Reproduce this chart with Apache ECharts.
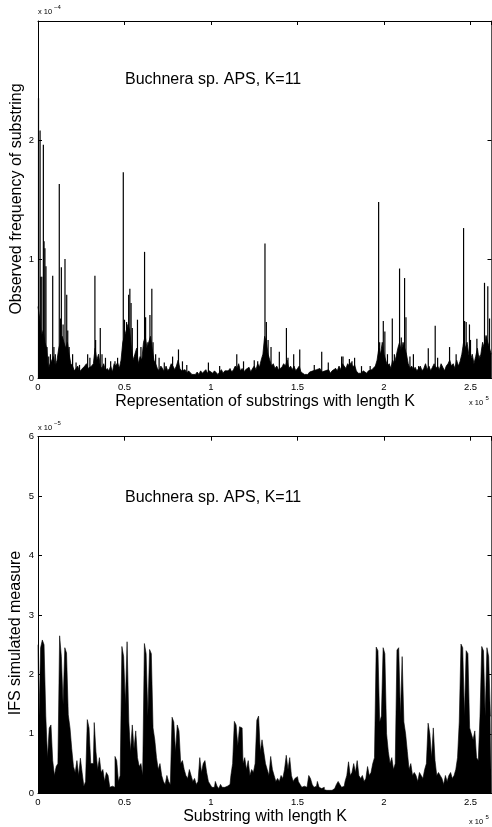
<!DOCTYPE html>
<html>
<head>
<meta charset="utf-8">
<script src="https://cdn.jsdelivr.net/npm/echarts@6/dist/echarts.min.js"></script>
<style>
  html, body { margin: 0; padding: 0; background: #fff; }
  #main { width: 492px; height: 827px; }
</style>
</head>
<body>
<div id="main"></div>
<script>
// x positions are in units of 1e5 (substring index), sampled every 0.01
var STEP = 0.01;
var X_MAX = 2.62144;
var xTickLabels = ['0', '0.5', '1', '1.5', '2', '2.5'];

// observed frequency, units of 1e-4 : the dense floor of the top panel
var topFloor = [
    0.6, 0.5, 0.35, 0.4, 0.3, 0.25, 0.08, 0.12, 0.15, 0.18,
    0.1, 0.15, 0.25, 0.3, 0.35, 0.3, 0.25, 0.3, 0.2, 0.12,
    0.1, 0.06, 0.08, 0.1, 0.05, 0.07, 0.06, 0.1, 0.12, 0.08,
    0.07, 0.1, 0.12, 0.25, 0.15, 0.2, 0.1, 0.08, 0.12, 0.06,
    0.08, 0.06, 0.1, 0.05, 0.12, 0.1, 0.13, 0.08, 0.15, 0.3,
    0.35, 0.4, 0.45, 0.4, 0.25, 0.15, 0.2, 0.25, 0.12, 0.18,
    0.15, 0.3, 0.35, 0.25, 0.3, 0.35, 0.25, 0.15, 0.12, 0.08,
    0.06, 0.1, 0.08, 0.05, 0.1, 0.06, 0.08, 0.12, 0.1, 0.07,
    0.1, 0.15, 0.08, 0.06, 0.05, 0.07, 0.04, 0.06, 0.05, 0.03,
    0.04, 0.03, 0.05, 0.03, 0.06, 0.04, 0.05, 0.07, 0.04, 0.06,
    0.05, 0.04, 0.06, 0.05, 0.03, 0.05, 0.07, 0.04, 0.06, 0.05,
    0.06, 0.08, 0.05, 0.07, 0.1, 0.08, 0.12, 0.06, 0.08, 0.05,
    0.07, 0.06, 0.09, 0.05, 0.08, 0.1, 0.07, 0.12, 0.09, 0.15,
    0.2, 0.35, 0.3, 0.2, 0.15, 0.1, 0.12, 0.08, 0.1, 0.07,
    0.06, 0.09, 0.12, 0.1, 0.15, 0.08, 0.1, 0.07, 0.1, 0.06,
    0.08, 0.1, 0.05, 0.04, 0.03, 0.04, 0.03, 0.05, 0.04, 0.06,
    0.05, 0.07, 0.06, 0.08, 0.05, 0.04, 0.06, 0.05, 0.07, 0.04,
    0.06, 0.05, 0.08, 0.06, 0.1, 0.07, 0.12, 0.1, 0.08, 0.12,
    0.1, 0.13, 0.09, 0.11, 0.06, 0.04, 0.05, 0.04, 0.06, 0.05,
    0.04, 0.06, 0.05, 0.07, 0.06, 0.1, 0.15, 0.25, 0.2, 0.3,
    0.2, 0.15, 0.1, 0.12, 0.08, 0.15, 0.12, 0.18, 0.25, 0.3,
    0.22, 0.3, 0.25, 0.2, 0.12, 0.08, 0.1, 0.07, 0.09, 0.06,
    0.08, 0.1, 0.06, 0.08, 0.12, 0.07, 0.1, 0.06, 0.09, 0.12,
    0.08, 0.1, 0.07, 0.12, 0.09, 0.06, 0.1, 0.12, 0.15, 0.1,
    0.12, 0.08, 0.15, 0.1, 0.14, 0.2, 0.3, 0.25, 0.3, 0.2,
    0.15, 0.2, 0.12, 0.18, 0.25, 0.15, 0.2, 0.3, 0.25, 0.35,
    0.3, 0.25, 0.2
];

// thin spikes of the top panel (x in 1e5, value in 1e-4)
var topPeakX = [
    0.003, 0.012, 0.016, 0.022, 0.031, 0.035, 0.040, 0.046, 0.052, 0.062,
    0.072, 0.085, 0.092, 0.100, 0.123, 0.130, 0.135, 0.145, 0.156, 0.166,
    0.172, 0.180, 0.200, 0.220, 0.240, 0.287, 0.300, 0.329, 0.333, 0.360,
    0.370, 0.390, 0.420, 0.445, 0.460, 0.493, 0.500, 0.512, 0.524, 0.531,
    0.538, 0.545, 0.575, 0.595, 0.616, 0.622, 0.635, 0.647, 0.658, 0.665,
    0.680, 0.700, 0.730, 0.778, 0.812, 0.835, 0.860, 0.985, 1.050, 1.149,
    1.188, 1.250, 1.270, 1.300, 1.312, 1.320, 1.330, 1.347, 1.395, 1.436,
    1.445, 1.478, 1.513, 1.597, 1.640, 1.678, 1.720, 1.755, 1.763, 1.800,
    1.815, 1.830, 1.870, 1.920, 1.969, 1.975, 1.996, 2.005, 2.020, 2.048,
    2.060, 2.090, 2.100, 2.119, 2.127, 2.150, 2.170, 2.200, 2.256, 2.296,
    2.310, 2.379, 2.417, 2.460, 2.466, 2.475, 2.494, 2.500, 2.537, 2.550,
    2.581, 2.590, 2.600, 2.610
];
var topPeakY = [
    2.35, 2.08, 0.85, 0.85, 1.96, 1.15, 1.09, 0.94, 0.26, 0.18,
    0.20, 0.86, 0.26, 0.20, 1.63, 0.50, 0.93, 0.45, 1.00, 0.70,
    0.40, 0.26, 0.20, 0.13, 0.11, 0.20, 0.17, 0.86, 0.32, 0.42,
    0.20, 0.17, 0.14, 0.14, 0.17, 1.73, 0.49, 0.47, 0.70, 0.75,
    0.63, 0.42, 0.49, 0.26, 1.06, 0.51, 0.30, 0.53, 0.75, 0.30,
    0.20, 0.17, 0.13, 0.18, 0.24, 0.14, 0.11, 0.13, 0.10, 0.20,
    0.14, 0.15, 0.14, 0.17, 1.13, 0.47, 0.32, 0.26, 0.22, 0.42,
    0.17, 0.20, 0.24, 0.11, 0.22, 0.13, 0.08, 0.18, 0.18, 0.16,
    0.14, 0.17, 0.10, 0.10, 1.48, 0.30, 0.48, 0.39, 0.20, 0.50,
    0.20, 0.92, 0.34, 0.84, 0.51, 0.18, 0.20, 0.10, 0.25, 0.44,
    0.17, 0.26, 0.20, 1.26, 0.48, 0.47, 0.45, 0.32, 0.33, 0.19,
    0.80, 0.36, 0.77, 0.50
];

// IFS simulated measure, units of 1e-5, sampled every 0.01
var bottomMeasure = [
    2.5, 1.2, 2.45, 2.58, 2.5, 1.3, 0.6, 1.1, 1.15, 0.55,
    0.3, 0.45, 0.5, 2.65, 2.3, 1.5, 2.45, 2.36, 1.32, 1.1,
    0.75, 0.45, 0.35, 0.55, 0.3, 0.59, 0.35, 0.12, 0.2, 1.24,
    1.1, 0.5, 0.5, 1.19, 0.7, 0.4, 0.6, 0.35, 0.4, 0.2,
    0.35, 0.3, 0.1, 0.12, 0.1, 0.62, 0.55, 0.2, 0.3, 2.47,
    2.3, 1.5, 2.55, 1.2, 0.7, 1.15, 0.75, 1.05, 0.6, 0.45,
    0.5, 0.3, 2.52, 2.35, 1.3, 2.42, 2.35, 1.1, 0.9, 0.6,
    0.4, 0.5, 0.3, 0.2, 0.15, 0.3, 0.2, 0.15, 1.28, 1.2,
    0.7, 1.15, 1.05, 0.5, 0.55, 0.4, 0.3, 0.25, 0.4, 0.3,
    0.2, 0.25, 0.15, 0.2, 0.6, 0.35, 0.5, 0.55, 0.35, 0.2,
    0.15, 0.1, 0.1, 0.2, 0.12, 0.08, 0.15, 0.1, 0.1, 0.12,
    0.1, 0.15, 0.3, 0.5, 1.21, 1.15, 0.8, 1.12, 1.1, 0.5,
    0.6, 0.4, 0.55, 0.3, 0.4, 0.35, 0.5, 1.23, 1.3, 0.7,
    0.9, 0.7, 0.5, 0.4, 0.3, 0.62, 0.4, 0.3, 0.2, 0.25,
    0.2, 0.3, 0.25, 0.4, 0.64, 0.4, 0.6, 0.3, 0.2, 0.25,
    0.28, 0.2, 0.15, 0.1, 0.12, 0.1, 0.08, 0.3, 0.25, 0.15,
    0.1, 0.12, 0.2, 0.1, 0.08, 0.1, 0.06, 0.05, 0.05, 0.04,
    0.05, 0.08, 0.1, 0.15, 0.2, 0.15, 0.1, 0.12, 0.2, 0.3,
    0.53, 0.3, 0.35, 0.5, 0.35, 0.55, 0.3, 0.25, 0.3, 0.2,
    0.25, 0.45, 0.3, 0.35, 0.5, 0.6, 2.46, 2.4, 1.2, 1.3,
    2.45, 2.35, 1.0, 0.7, 0.5, 0.6, 0.4, 0.5, 2.41, 2.45,
    1.3, 2.3, 1.2, 1.0, 0.7, 0.4, 0.5, 0.3, 0.35, 0.3,
    0.2, 0.35, 0.3, 0.25, 0.4, 0.5, 1.18, 1.0, 0.6, 1.1,
    0.55, 0.3, 0.35, 0.3, 0.25, 0.15, 0.3, 0.2, 0.3, 0.35,
    0.25, 0.3, 0.4, 0.6, 1.2, 2.51, 2.45, 1.3, 2.4, 2.35,
    1.1, 1.0, 0.9, 1.05, 0.6, 0.55, 1.3, 2.47, 2.4, 1.3,
    2.45, 2.3, 1.3
];

function pairs(values) {
    var out = [];
    for (var i = 0; i < values.length; i++) {
        out.push([+(i * STEP).toFixed(2), values[i]]);
    }
    return out;
}
function zip(xs, ys) {
    var out = [];
    for (var i = 0; i < xs.length; i++) out.push([xs[i], ys[i]]);
    return out;
}

var FONT = 'Liberation Sans, Arial, Helvetica, sans-serif';
var ink = '#000';

function xAxes(gridIndex) {
    return [
        {
            type: 'value', gridIndex: gridIndex, min: 0, max: X_MAX, interval: 0.5,
            position: 'bottom',
            axisLine: {onZero: false, lineStyle: {color: ink, width: 1}},
            axisTick: {inside: true, length: 4, lineStyle: {color: ink}},
            axisLabel: {
                showMaxLabel: false, margin: 4, color: ink, fontSize: 9.5, fontFamily: FONT,
                formatter: function (v) { return xTickLabels[Math.round(v / 0.5)]; }
            },
            splitLine: {show: false}
        },
        {
            type: 'value', gridIndex: gridIndex, min: 0, max: X_MAX, interval: 0.5,
            position: 'top',
            axisLine: {onZero: false, lineStyle: {color: ink, width: 1}},
            axisTick: {inside: true, length: 4, lineStyle: {color: ink}},
            axisLabel: {show: false},
            splitLine: {show: false}
        }
    ];
}
function yAxes(gridIndex, max, showMax) {
    return [
        {
            type: 'value', gridIndex: gridIndex, min: 0, max: max, interval: 1,
            position: 'left',
            axisLine: {onZero: false, lineStyle: {color: ink, width: 1}},
            axisTick: {inside: true, length: 4, lineStyle: {color: ink}},
            axisLabel: {showMaxLabel: showMax, margin: 4, color: ink, fontSize: 9.5, fontFamily: FONT},
            splitLine: {show: false}
        },
        {
            type: 'value', gridIndex: gridIndex, min: 0, max: max, interval: 1,
            position: 'right',
            axisLine: {onZero: false, lineStyle: {color: '#555', width: 1}},
            axisTick: {inside: true, length: 4, lineStyle: {color: ink}},
            axisLabel: {show: false},
            splitLine: {show: false}
        }
    ];
}

var chart = echarts.init(document.getElementById('main'));

var option = {
    animation: false,
    backgroundColor: '#fff',
    grid: [
        {left: 38, top: 21, width: 453.5, height: 357},
        {left: 38, top: 436.7, width: 453.5, height: 356.6}
    ],
    xAxis: xAxes(0).concat(xAxes(1)),
    yAxis: yAxes(0, 3, false).concat(yAxes(1, 6, true)),
    series: [
        {
            name: 'observed floor', type: 'line', xAxisIndex: 0, yAxisIndex: 0,
            data: pairs(topFloor), symbol: 'none',
            lineStyle: {color: ink, width: 0.8},
            areaStyle: {color: ink, opacity: 1}
        },
        {
            name: 'observed spikes', type: 'bar', xAxisIndex: 0, yAxisIndex: 0,
            data: zip(topPeakX, topPeakY), barWidth: 1.2,
            itemStyle: {color: ink}
        },
        {
            name: 'IFS measure', type: 'line', xAxisIndex: 2, yAxisIndex: 2,
            data: pairs(bottomMeasure), symbol: 'none', step: 'middle',
            lineStyle: {color: ink, width: 0.6},
            areaStyle: {color: ink, opacity: 1}
        }
    ],
    graphic: [
        {type: 'text', left: 38, top: 8, style: {text: 'x 10', fontSize: 7.5, fontFamily: FONT, fill: ink}},
        {type: 'text', left: 54, top: 4, style: {text: '−4', fontSize: 6, fontFamily: FONT, fill: ink}},
        {type: 'text', x: 125, y: 80, style: {text: 'Buchnera sp. APS, K=11', fontSize: 16, fontFamily: FONT, fill: ink, verticalAlign: 'middle'}},
        {type: 'text', x: 17, y: 199, rotation: Math.PI / 2,
            style: {text: 'Observed frequency of substring', fontSize: 16, fontFamily: FONT, fill: ink, align: 'center', verticalAlign: 'middle'}},
        {type: 'text', x: 265, y: 402,
            style: {text: 'Representation of substrings with length K', fontSize: 16, fontFamily: FONT, fill: ink, align: 'center', verticalAlign: 'middle'}},
        {type: 'text', x: 469, y: 403, style: {text: 'x 10', fontSize: 7.5, fontFamily: FONT, fill: ink, verticalAlign: 'middle'}},
        {type: 'text', x: 485.5, y: 398, style: {text: '5', fontSize: 6, fontFamily: FONT, fill: ink, verticalAlign: 'middle'}},

        {type: 'text', x: 38, y: 428, style: {text: 'x 10', fontSize: 7.5, fontFamily: FONT, fill: ink, verticalAlign: 'middle'}},
        {type: 'text', x: 54, y: 423, style: {text: '−5', fontSize: 6, fontFamily: FONT, fill: ink, verticalAlign: 'middle'}},
        {type: 'text', x: 125, y: 498, style: {text: 'Buchnera sp. APS, K=11', fontSize: 16, fontFamily: FONT, fill: ink, verticalAlign: 'middle'}},
        {type: 'text', x: 16, y: 633, rotation: Math.PI / 2,
            style: {text: 'IFS simulated measure', fontSize: 16, fontFamily: FONT, fill: ink, align: 'center', verticalAlign: 'middle'}},
        {type: 'text', x: 265, y: 817,
            style: {text: 'Substring with length K', fontSize: 16, fontFamily: FONT, fill: ink, align: 'center', verticalAlign: 'middle'}},
        {type: 'text', x: 469, y: 822, style: {text: 'x 10', fontSize: 7.5, fontFamily: FONT, fill: ink, verticalAlign: 'middle'}},
        {type: 'text', x: 485.5, y: 817, style: {text: '5', fontSize: 6, fontFamily: FONT, fill: ink, verticalAlign: 'middle'}}
    ]
};

chart.setOption(option);
</script>
</body>
</html>
